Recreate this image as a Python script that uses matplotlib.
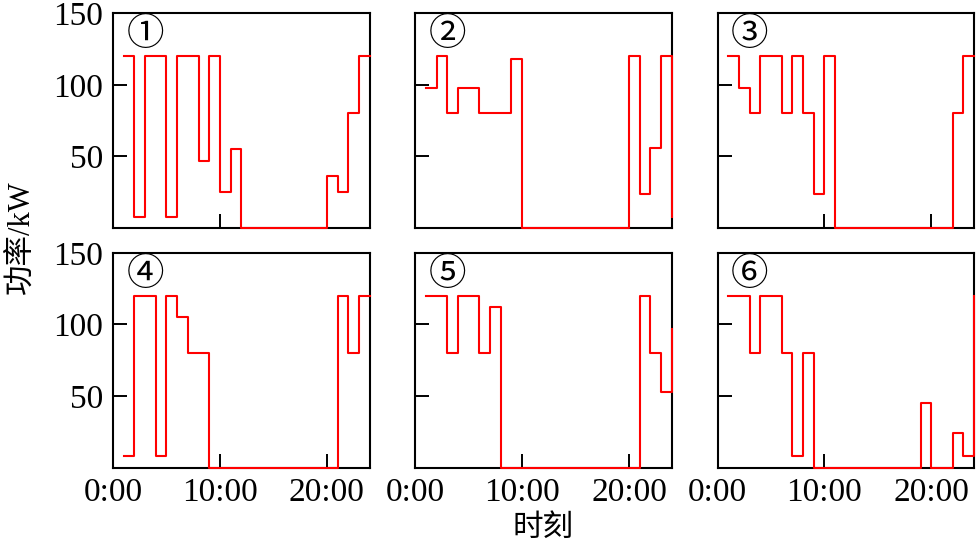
import matplotlib
matplotlib.use("Agg")
import matplotlib.pyplot as plt

# hourly power (kW), value at hour h holds until h+1
hours = list(range(1, 25))

p1 = [120, 8, 120, 120, 8, 120, 120, 47, 120, 25, 55, 0, 0, 0, 0, 0, 0, 0, 0, 36, 25, 80, 120, 120]
p2 = [98, 120, 80, 98, 98, 80, 80, 80, 118, 0, 0, 0, 0, 0, 0, 0, 0, 0, 0, 120, 24, 56, 120, 8]
p3 = [120, 98, 80, 120, 120, 80, 120, 80, 24, 120, 0, 0, 0, 0, 0, 0, 0, 0, 0, 0, 0, 80, 120, 120]
p4 = [8, 120, 120, 8, 120, 105, 80, 80, 0, 0, 0, 0, 0, 0, 0, 0, 0, 0, 0, 0, 120, 80, 120, 120]
p5 = [120, 120, 80, 120, 120, 80, 112, 0, 0, 0, 0, 0, 0, 0, 0, 0, 0, 0, 0, 0, 120, 80, 53, 97]
p6 = [120, 120, 80, 120, 120, 80, 8, 80, 0, 0, 0, 0, 0, 0, 0, 0, 0, 0, 45, 0, 0, 24, 8, 120]

series = [p1, p2, p3, p4, p5, p6]
tags = ["①", "②", "③", "④", "⑤", "⑥"]
xticks = [0, 10, 20]
xticklabels = ["0:00", "10:00", "20:00"]
yticks = [50, 100, 150]

serif = ["Liberation Serif", "Noto Sans CJK SC"]
plt.rcParams["font.family"] = serif

fig, axes = plt.subplots(2, 3, figsize=(9.77, 5.46), dpi=100, sharex=True, sharey=True)
fig.subplots_adjust(left=0.1157, right=0.997, top=0.976, bottom=0.1434,
                    wspace=0.178, hspace=0.115)

for i, ax in enumerate(axes.flat):
    ax.step(hours, series[i], where="post", color="red", lw=1.5,
            zorder=3, clip_on=False)
    ax.set_xlim(0, 24)
    ax.set_ylim(0, 150)
    ax.set_xticks(xticks)
    ax.set_xticklabels(xticklabels)
    ax.set_yticks(yticks)
    ax.tick_params(direction="in", length=10, width=1.4, labelsize=24, pad=7)
    for sp in ax.spines.values():
        sp.set_linewidth(1.5)
    ax.text(0.125, 0.9, tags[i], transform=ax.transAxes, fontsize=27,
            ha="center", va="center", family=["Noto Sans CJK SC", "DejaVu Sans"])

fig.text(0.0225, 0.565, "功率/kW", rotation=90, ha="center", va="center", fontsize=22)
fig.text(0.5555, 0.033, "时刻", ha="center", va="center", fontsize=22)

fig.savefig("out.png", dpi=100)
